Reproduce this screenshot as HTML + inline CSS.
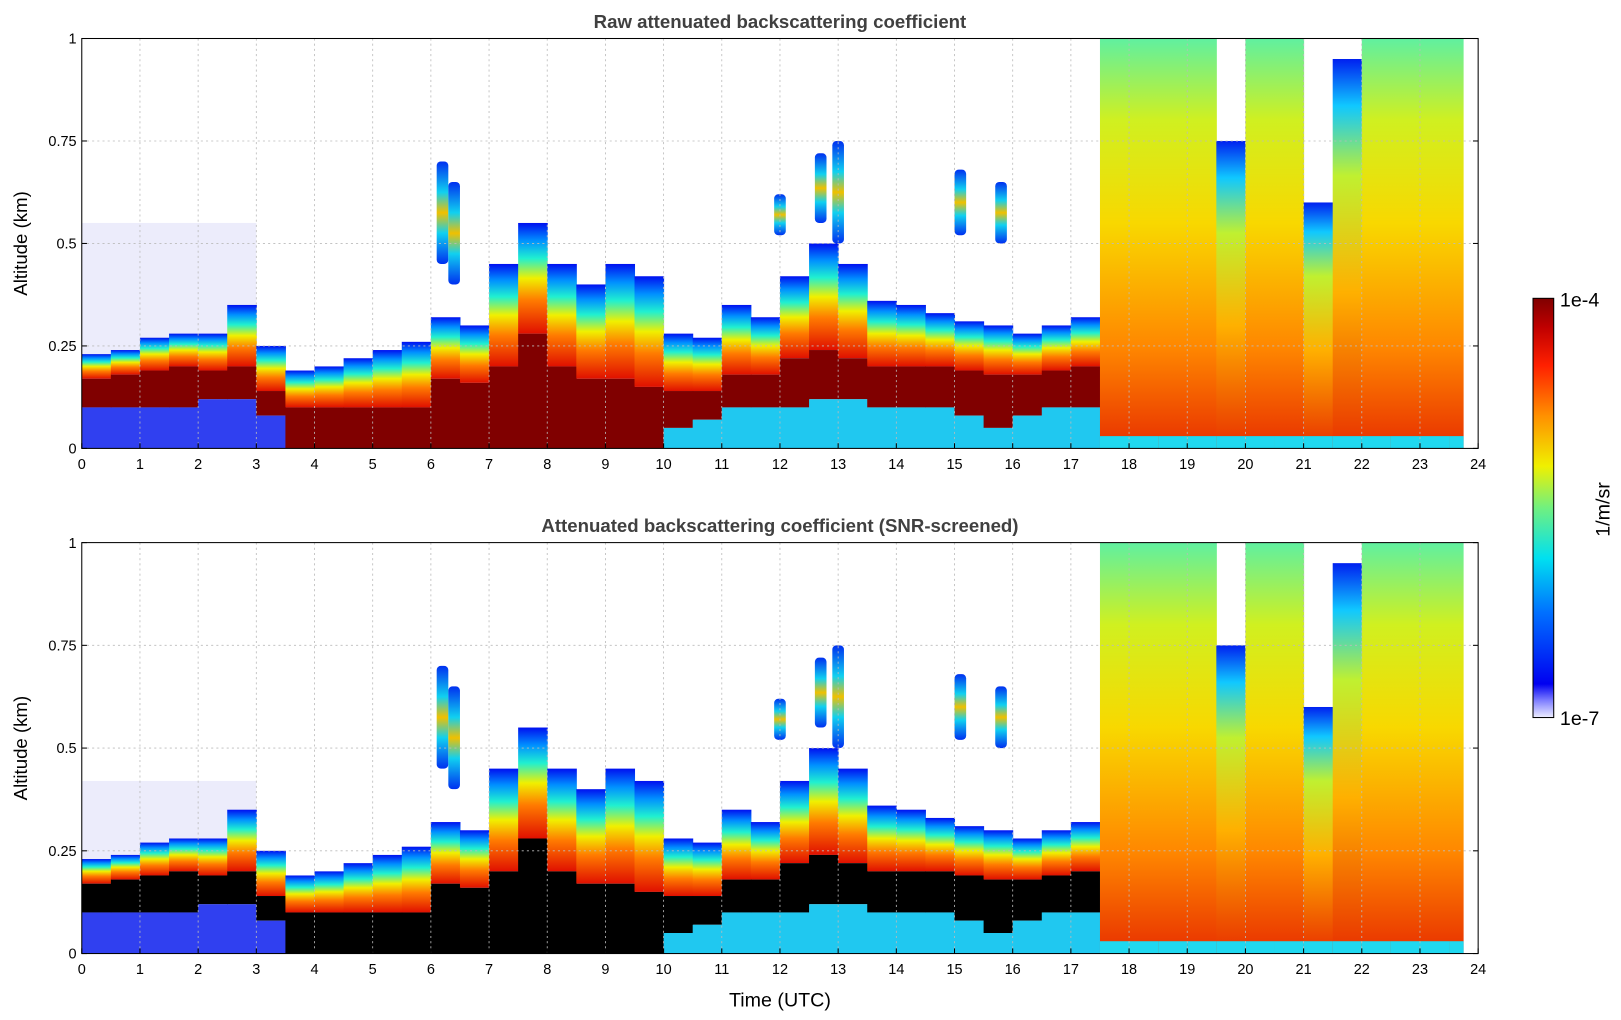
<!DOCTYPE html>
<html><head><meta charset="utf-8"><style>
html,body{margin:0;padding:0;background:#fff;}
svg{display:block;font-family:"Liberation Sans","DejaVu Sans",sans-serif;}
</style></head><body>
<svg id="chart" width="1621" height="1020" viewBox="0 0 1566 985" xmlns="http://www.w3.org/2000/svg">
<defs>
<linearGradient id="edge" x1="0" y1="1" x2="0" y2="0">
<stop offset="0" stop-color="#e01000"/><stop offset="0.3" stop-color="#ff7a00"/><stop offset="0.5" stop-color="#f0f000"/><stop offset="0.68" stop-color="#20f0d0"/><stop offset="0.84" stop-color="#0090ff"/><stop offset="1" stop-color="#0010f0"/>
</linearGradient>
<linearGradient id="cloud" x1="0" y1="1" x2="0" y2="0">
<stop offset="0" stop-color="#0030f0"/><stop offset="0.3" stop-color="#10d0f0"/><stop offset="0.5" stop-color="#f0c000"/><stop offset="0.7" stop-color="#10d0f0"/><stop offset="1" stop-color="#0030f0"/>
</linearGradient>
<linearGradient id="fog" x1="0" y1="1" x2="0" y2="0">
<stop offset="0" stop-color="#e83000"/><stop offset="0.25" stop-color="#ff8800"/><stop offset="0.55" stop-color="#f8d800"/><stop offset="0.8" stop-color="#d0f020"/><stop offset="1" stop-color="#60f0a0"/>
</linearGradient>
<linearGradient id="fog2" x1="0" y1="1" x2="0" y2="0">
<stop offset="0" stop-color="#e83000"/><stop offset="0.4" stop-color="#ffb000"/><stop offset="0.7" stop-color="#c0f030"/><stop offset="0.88" stop-color="#10c8ff"/><stop offset="1" stop-color="#0020f0"/>
</linearGradient>
<linearGradient id="cbar" x1="0" y1="1" x2="0" y2="0">
<stop offset="0" stop-color="#eeeeff"/><stop offset="0.04" stop-color="#8080ff"/><stop offset="0.08" stop-color="#0000f0"/><stop offset="0.25" stop-color="#0070ff"/><stop offset="0.38" stop-color="#00e0f0"/><stop offset="0.5" stop-color="#70f080"/><stop offset="0.6" stop-color="#f0f000"/><stop offset="0.72" stop-color="#ff9000"/><stop offset="0.84" stop-color="#ff2000"/><stop offset="0.93" stop-color="#c00000"/><stop offset="1" stop-color="#800000"/>
</linearGradient>
</defs>
</svg>
<script>
const times=[0,0.5,1,1.5,2,2.5,3,3.5,4,4.5,5,5.5,6,6.5,7,7.5,8,8.5,9,9.5,10,10.5,11,11.5,12,12.5,13,13.5,14,14.5,15,15.5,16,16.5,17,17.5,18,18.5,19,19.5,20,20.5,21,21.5,22,22.5,23,23.5];
const layerTop=[.23,.24,.27,.28,.28,.35,.25,.19,.2,.22,.24,.26,.32,.3,.45,.55,.45,.4,.45,.42,.28,.27,.35,.32,.42,.5,.45,.36,.35,.33,.31,.3,.28,.3,.32,1,1,1,1,.75,1,1,.6,.95,1,1,1,1];
const coreBot=[.1,.1,.1,.1,.12,.12,.08,0,0,0,0,0,0,0,0,0,0,0,0,0,.05,.07,.1,.1,.1,.12,.12,.1,.1,.1,.08,.05,.08,.1,.1,0,0,0,0,0,0,0,0,0,0,0,0,0];
const coreTop=[.17,.18,.19,.2,.19,.2,.14,.1,.1,.1,.1,.1,.17,.16,.2,.28,.2,.17,.17,.15,.14,.14,.18,.18,.22,.24,.22,.2,.2,.2,.19,.18,.18,.19,.2,0,0,0,0,0,0,0,0,0,0,0,0,0];
const cloudT=[6.1,6.3,11.9,12.6,12.9,15.0,15.7];
const cloudBot=[.45,.4,.52,.55,.5,.52,.5];
const cloudTop=[.7,.65,.62,.72,.75,.68,.65];
const xTicks=[0,1,2,3,4,5,6,7,8,9,10,11,12,13,14,15,16,17,18,19,20,21,22,23,24];
const yTicks=[0,0.25,0.5,0.75,1];
const yTickLabels=['0','0.25','0.5','0.75','1'];
const binW=0.5, fogStart=17.5, cloudW=0.2;
const NS='http://www.w3.org/2000/svg';
const svg=document.getElementById('chart');
function mk(tag,attrs,parent){const e=document.createElementNS(NS,tag);for(const k in attrs)e.setAttribute(k,attrs[k]);(parent||svg).appendChild(e);return e;}
const X0=79,X1=1428;
function xs(t){return X0+t*(X1-X0)/24;}
const panels=[{top:37,bot:433,title:'Raw attenuated backscattering coefficient',core:'#800000',name:'raw-panel'},
{top:524,bot:921,title:'Attenuated backscattering coefficient (SNR-screened)',core:'#000000',name:'screened-panel'}];
panels.forEach((p,pi)=>{
 const ys=a=>p.bot-a*(p.bot-p.top);
 const g=mk('g',{});
 
 
 const hz=mk('rect',{x:xs(0),y:ys(pi?0.42:0.55),width:xs(3)-xs(0),height:ys(0)-ys(pi?0.42:0.55),fill:'#ececfb'},g);
 
 
 times.forEach((t,i)=>{
  const x=xs(t),w=xs(t+binW)-x+0.5;
  if(t>=fogStart){
   const ww=(t===23.5?xs(23.75)-x:w);
   const r=mk('rect',{x:x,y:ys(layerTop[i]),width:ww,height:ys(0)-ys(layerTop[i]),fill:layerTop[i]<1?'url(#fog2)':'url(#fog)'},g);
   
   
   const s=mk('rect',{x:x,y:ys(0.03),width:ww,height:ys(0)-ys(0.03),fill:'#20d8f0'},g);
   
   
  } else {
   const e=mk('rect',{x:x,y:ys(layerTop[i]),width:w,height:ys(coreTop[i])-ys(layerTop[i]),fill:'url(#edge)'},g);
   
   
   const c=mk('rect',{x:x,y:ys(coreTop[i]),width:w,height:ys(coreBot[i])-ys(coreTop[i]),fill:p.core},g);
   
   
   if(coreBot[i]>0){
    const s=mk('rect',{x:x,y:ys(coreBot[i]),width:w,height:ys(0)-ys(coreBot[i]),fill:t<3.5?'#3040f0':'#20c8f0'},g);
    
    
   }
  }
 });
 cloudT.forEach((t,i)=>{
  const c=mk('rect',{x:xs(t),y:ys(cloudTop[i]),width:xs(t+cloudW)-xs(t),height:ys(cloudBot[i])-ys(cloudTop[i]),rx:4,fill:'url(#cloud)'},g);
  
  
 });
 xTicks.forEach(v=>{if(v>0&&v<24){const l=mk('line',{x1:xs(v),x2:xs(v),y1:p.top,y2:p.bot,stroke:'#bbb','stroke-dasharray':'2,3','stroke-width':0.8},g);}});
 yTicks.forEach(v=>{if(v>0&&v<1){const l=mk('line',{x1:X0,x2:X1,y1:ys(v),y2:ys(v),stroke:'#bbb','stroke-dasharray':'2,3','stroke-width':0.8},g);}});
 const fr=mk('rect',{x:X0,y:p.top,width:X1-X0,height:p.bot-p.top,fill:'none',stroke:'#000','stroke-width':1},g);
 
 
 xTicks.forEach(v=>{
  mk('line',{x1:xs(v),x2:xs(v),y1:p.bot,y2:p.bot-5,stroke:'#000'},g);
  const tx=mk('text',{x:xs(v),y:p.bot+20,'font-size':14,'text-anchor':'middle'},g);tx.textContent=v;
  
  
 });
 yTicks.forEach((v,k)=>{
  mk('line',{x1:X0,x2:X0+5,y1:ys(v),y2:ys(v),stroke:'#000'},g);
  mk('line',{x1:X1,x2:X1-5,y1:ys(v),y2:ys(v),stroke:'#000'},g);
  const tx=mk('text',{x:X0-5,y:ys(v)+5,'font-size':14,'text-anchor':'end'},g);tx.textContent=yTickLabels[k];
  
  
 });
 const ti=mk('text',{x:(X0+X1)/2,y:p.top-10,'font-size':18,'font-weight':'bold','text-anchor':'middle',fill:'#404040'},g);ti.textContent=p.title;
 
 
 const yl=mk('text',{x:0,y:0,'font-size':18,'text-anchor':'middle',transform:`translate(26,${(p.top+p.bot)/2}) rotate(-90)`},g);yl.textContent='Altitude (km)';
 
 
});
const xl=mk('text',{x:(X0+X1)/2,y:972,'font-size':19,'text-anchor':'middle'});xl.textContent='Time (UTC)';


const cb=mk('rect',{x:1481,y:288,width:20,height:405,fill:'url(#cbar)',stroke:'#000','stroke-width':1});


const c1=mk('text',{x:1507,y:296,'font-size':19});c1.textContent='1e-4';


const c2=mk('text',{x:1507,y:700,'font-size':19});c2.textContent='1e-7';


const cu=mk('text',{x:0,y:0,'font-size':19,'text-anchor':'middle',transform:'translate(1555,492) rotate(-90)'});cu.textContent='1/m/sr';


</script>
</body></html>
